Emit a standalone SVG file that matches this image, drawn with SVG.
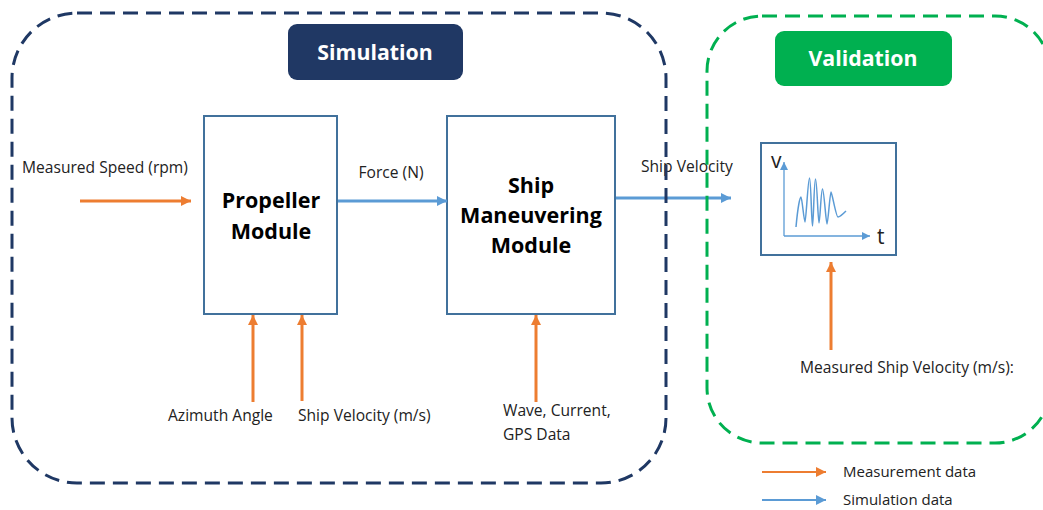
<svg xmlns="http://www.w3.org/2000/svg" width="1043" height="510" viewBox="0 0 1043 510">
<defs>
<marker id="ho" markerUnits="userSpaceOnUse" markerWidth="11" markerHeight="11" refX="10" refY="5" orient="auto"><path d="M0,0 L10,5 L0,10 z" fill="#ED7D31"/></marker>
<marker id="hb" markerUnits="userSpaceOnUse" markerWidth="11" markerHeight="11" refX="10" refY="5" orient="auto"><path d="M0,0 L10,5 L0,10 z" fill="#5B9BD5"/></marker>
<marker id="ha" markerUnits="userSpaceOnUse" markerWidth="9" markerHeight="9" refX="8" refY="4" orient="auto"><path d="M0,0 L8,4 L0,8 z" fill="#5B9BD5"/></marker>
<style>
.t{font-family:"Open Sans","Liberation Sans",sans-serif;fill:#222}
.lbl{font-size:15.6px}
.leg{font-size:15px}
.bold{font-weight:bold;font-size:21.5px;fill:#000;text-anchor:middle}
.hdr{font-weight:bold;font-size:21.3px;fill:#fff;text-anchor:middle}
.box{fill:#fff;stroke:#41719C;stroke-width:2}
.or{stroke:#ED7D31;stroke-width:3;fill:none;marker-end:url(#ho)}
.bl{stroke:#5B9BD5;stroke-width:3;fill:none;marker-end:url(#hb)}
.cont{fill:none;stroke-width:3;stroke-dasharray:15 8}
</style>
</defs>

<g id="propeller">
<rect class="box" x="204" y="116" width="133" height="198"/>
<text class="t bold" x="271" y="208">Propeller</text>
<text class="t bold" x="271" y="239">Module</text>
</g>

<g id="ship-maneuvering">
<rect class="box" x="447" y="116" width="168" height="198"/>
<text class="t bold" x="531" y="193">Ship</text>
<text class="t bold" x="531" y="223">Maneuvering</text>
<text class="t bold" x="531" y="253">Module</text>
</g>

<g id="chart">
<rect x="761" y="143" width="135" height="112" fill="#fff" stroke="#41719C" stroke-width="2"/>
<line x1="784" y1="236" x2="784" y2="162" stroke="#5B9BD5" stroke-width="1.3" marker-end="url(#ha)"/>
<line x1="784" y1="236" x2="870" y2="236" stroke="#5B9BD5" stroke-width="1.3" marker-end="url(#ha)"/>
<path d="M796,227 C798,205 800,197 801,197 S804,222 805,222 S808,178 809.5,178 S811.5,226 812.5,226 S814,179 815.5,179 S818,223 819,223 S821,189 822.5,189 S826,224 827,224 S830,192 831,192 S836,217 838,217 S844,213 846,211" fill="none" stroke="#5B9BD5" stroke-width="1.5"/>
<text class="t" x="771" y="168" font-size="21" fill="#000">v</text>
<text class="t" x="877" y="244" font-size="21" fill="#000">t</text>
</g>

<g id="connectors">
<line class="or" x1="80" y1="201" x2="191" y2="201"/>
<line class="bl" x1="338" y1="201" x2="447" y2="201"/>
<line class="bl" x1="616" y1="198" x2="731" y2="198"/>
<line class="or" x1="253" y1="402" x2="253" y2="315"/>
<line class="or" x1="302" y1="401" x2="302" y2="315"/>
<line class="or" x1="536" y1="402" x2="536" y2="315"/>
<line class="or" x1="831" y1="350" x2="831" y2="262"/>
<line x1="762" y1="472" x2="826" y2="472" stroke="#ED7D31" stroke-width="2" marker-end="url(#ho)"/>
<line x1="762" y1="500" x2="826" y2="500" stroke="#5B9BD5" stroke-width="2" marker-end="url(#hb)"/>
</g>

<g id="labels">
<text class="t lbl" x="22" y="173">Measured Speed (rpm)</text>
<text class="t lbl" x="391" y="178" text-anchor="middle">Force (N)</text>
<text class="t lbl" x="641" y="172">Ship Velocity</text>
<text class="t lbl" x="168" y="421">Azimuth Angle</text>
<text class="t lbl" x="298" y="421">Ship Velocity (m/s)</text>
<text class="t lbl" x="503" y="416">Wave, Current,</text>
<text class="t lbl" x="503" y="440">GPS Data</text>
<text class="t lbl" x="800" y="373">Measured Ship Velocity (m/s):</text>
<text class="t leg" x="843" y="477">Measurement data</text>
<text class="t leg" x="843" y="505">Simulation data</text>
</g>

<g id="simulation">
<rect class="cont" x="12" y="13" width="654" height="470" rx="65" stroke="#1F3864"/>
<rect x="288" y="24" width="175" height="56" rx="9" fill="#203864"/>
<text class="t hdr" x="375" y="60">Simulation</text>
</g>

<g id="validation">
<rect class="cont" x="707" y="16" width="343" height="427" rx="55" stroke="#00B050"/>
<rect x="775" y="31" width="177" height="55" rx="9" fill="#00B050"/>
<text class="t hdr" x="863" y="66">Validation</text>
</g>
</svg>
